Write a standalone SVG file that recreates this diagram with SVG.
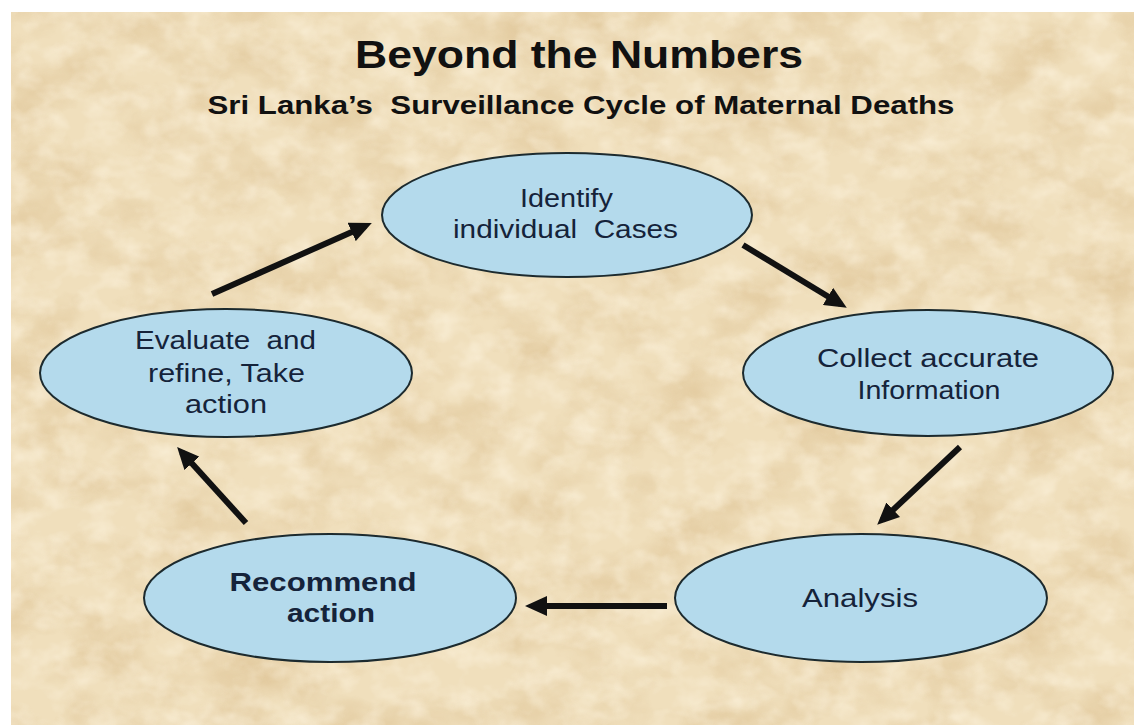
<svg xmlns="http://www.w3.org/2000/svg" width="1134" height="725" viewBox="0 0 1134 725">
  <defs>
    <filter id="parchment" x="0" y="0" width="100%" height="100%" color-interpolation-filters="sRGB">
      <feTurbulence type="fractalNoise" baseFrequency="0.014 0.02" numOctaves="4" seed="7" result="n1"/>
      <feColorMatrix in="n1" type="matrix" values="0 0 0 0 0.84  0 0 0 0 0.72  0 0 0 0 0.52  1.1 0 0 0 -0.45" result="dark"/>
      <feTurbulence type="fractalNoise" baseFrequency="0.035 0.045" numOctaves="3" seed="21" result="n2"/>
      <feColorMatrix in="n2" type="matrix" values="0 0 0 0 1  0 0 0 0 0.97  0 0 0 0 0.90  0 1.1 0 0 -0.45" result="light"/>
      <feMerge>
        <feMergeNode in="dark"/>
        <feMergeNode in="light"/>
      </feMerge>
    </filter>
    <marker id="head" viewBox="0 0 22 20" refX="15" refY="10" markerWidth="22" markerHeight="20" markerUnits="userSpaceOnUse" orient="auto">
      <path d="M0,0 L22,10 L0,20 Z" fill="#111"/>
    </marker>
  </defs>
  <style>
    .node ellipse { fill: #B4DAEC; stroke: #1C2A2E; stroke-width: 2; }
    .label { font-family: "Liberation Sans", Arial, sans-serif; font-size: 25px; fill: #15233A; text-anchor: middle; }
    .bold { font-weight: bold; }
    .title { font-family: "Liberation Sans", Arial, sans-serif; font-weight: bold; fill: #111; text-anchor: middle; }
    .edge { stroke: #111; stroke-width: 6; fill: none; marker-end: url(#head); }
  </style>

  <!-- page and parchment background -->
  <rect x="0" y="0" width="1134" height="725" fill="#FFFFFF"/>
  <rect x="11" y="12" width="1123" height="713" fill="#F0DFBC"/>
  <rect x="11" y="12" width="1123" height="713" filter="url(#parchment)"/>

  <!-- headings -->
  <text class="title" x="579" y="68" font-size="39" textLength="448" lengthAdjust="spacingAndGlyphs">Beyond the Numbers</text>
  <text class="title" x="581" y="114" font-size="25" textLength="747" lengthAdjust="spacingAndGlyphs" xml:space="preserve">Sri Lanka’s  Surveillance Cycle of Maternal Deaths</text>

  <!-- cycle connectors -->
  <g id="connectors">
    <line class="edge" x1="212" y1="294" x2="365.4" y2="225.9"/>
    <line class="edge" x1="743" y1="245" x2="840.8" y2="304.2"/>
    <line class="edge" x1="960" y1="447" x2="882.3" y2="520"/>
    <line class="edge" x1="667" y1="606" x2="532" y2="606"/>
    <line class="edge" x1="246" y1="523" x2="181.8" y2="452.3"/>
  </g>

  <g id="identify" class="node">
    <ellipse cx="567" cy="215" rx="185" ry="62"/>
    <text class="label" x="566.5" y="207" textLength="93" lengthAdjust="spacingAndGlyphs">Identify</text>
    <text class="label" x="565.5" y="238" textLength="225" lengthAdjust="spacingAndGlyphs" xml:space="preserve">individual  Cases</text>
  </g>

  <g id="collect" class="node">
    <ellipse cx="928" cy="373" rx="185" ry="63"/>
    <text class="label" x="928" y="367" textLength="222" lengthAdjust="spacingAndGlyphs">Collect accurate</text>
    <text class="label" x="929" y="399" textLength="143" lengthAdjust="spacingAndGlyphs">Information</text>
  </g>

  <g id="analysis" class="node">
    <ellipse cx="861" cy="598" rx="186" ry="64"/>
    <text class="label" x="860" y="607" textLength="116" lengthAdjust="spacingAndGlyphs">Analysis</text>
  </g>

  <g id="recommend" class="node">
    <ellipse cx="330" cy="598" rx="186" ry="64"/>
    <text class="label bold" x="323" y="591" textLength="187" lengthAdjust="spacingAndGlyphs">Recommend</text>
    <text class="label bold" x="331" y="622" textLength="88" lengthAdjust="spacingAndGlyphs">action</text>
  </g>

  <g id="evaluate" class="node">
    <ellipse cx="226" cy="373" rx="186" ry="64"/>
    <text class="label" x="225.5" y="349" textLength="181" lengthAdjust="spacingAndGlyphs" xml:space="preserve">Evaluate  and</text>
    <text class="label" x="226.5" y="382" textLength="157" lengthAdjust="spacingAndGlyphs">refine, Take</text>
    <text class="label" x="226" y="413" textLength="82" lengthAdjust="spacingAndGlyphs">action</text>
  </g>
</svg>
